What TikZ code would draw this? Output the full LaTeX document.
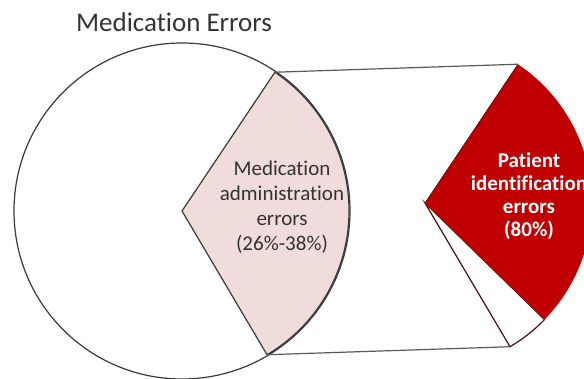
\documentclass[tikz,border=0pt]{standalone}
\usepackage{fontspec}
\setmainfont{Carlito}[Ligatures={NoCommon}]
\definecolor{pinkfill}{HTML}{F0DCDA}
\definecolor{deepred}{HTML}{C00000}
\definecolor{edge}{HTML}{3A3A3A}
\definecolor{maroonedge}{HTML}{4A1010}
\begin{document}
\begin{tikzpicture}[x=1pt,y=1pt,
  outline/.style={draw=edge, line width=1.2pt},
  link/.style={draw=black!65, line width=1.2pt},
  label/.style={align=center, text=black!80, inner sep=0pt}]
\useasboundingbox (0,0) rectangle (584,379);
\clip (0,0) rectangle (584,379);
% big pie
\coordinate (c1) at (182,168);
\coordinate (c2) at (425,176);
\coordinate (t1) at ([shift={(56.2:167pt)}]c1);
\coordinate (b1) at ([shift={(-59.4:167pt)}]c1);
\coordinate (t2) at ([shift={(56.2:167pt)}]c2);
\coordinate (b2) at ([shift={(-59.4:167pt)}]c2);
\coordinate (m2) at ([shift={(-44.3:167pt)}]c2);
\draw[outline, fill=white] (c1) circle (168pt);
\draw[outline, fill=pinkfill] (c1) -- (b1) arc (-59.4:56.2:167pt) -- cycle;
% exploded slice
\draw[draw=maroonedge, line width=1.2pt, fill=white] (c2) -- (b2) arc (-59.4:-44.3:167pt) -- cycle;
\fill[deepred] (c2) -- (m2) arc (-44.3:56.2:167pt) -- cycle;
\draw[draw=maroonedge, line width=0.6pt] (t2) -- (c2);
% connectors
\draw[link] (t1) -- (t2);
\draw[link] (b1) -- (b2);
% texts
\node[label, font=\fontsize{27}{30}\selectfont] (title) at (174,357) {Medication Errors};
\node[label, font=\fontsize{21}{25}\selectfont] (mae) at (282,172) {Medication\\administration\\errors\\(26\%-38\%)};
\node[label, text=white, font=\bfseries\fontsize{21}{23}\selectfont] (pie) at (529,183) {Patient\\identification\\errors\\(80\%)};
\end{tikzpicture}
\end{document}
